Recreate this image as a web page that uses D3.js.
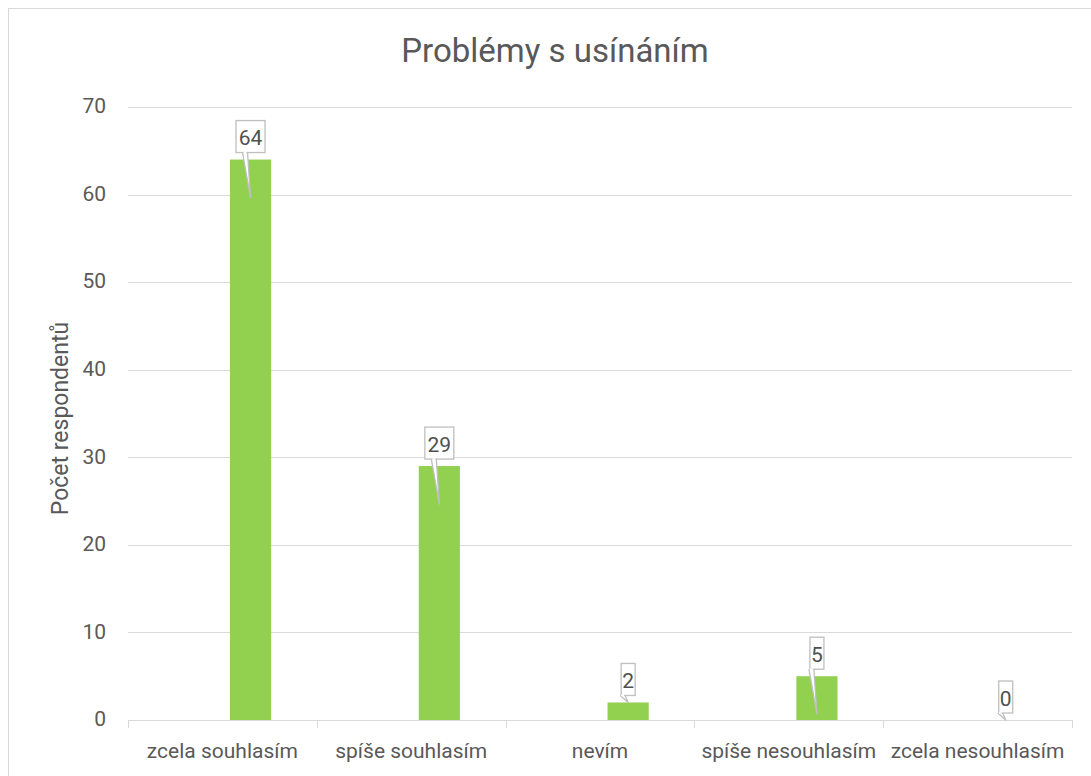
<!DOCTYPE html>
<html>
<head>
<meta charset="utf-8">
<script src="https://cdn.jsdelivr.net/npm/d3@7"></script>
<style>
  html, body { margin: 0; padding: 0; background: #fff; }
  svg { display: block; font-family: Roboto, "Noto Sans", sans-serif; }
</style>
</head>
<body>
<svg id="chart" width="1091" height="776"></svg>
<script>
// Survey answers for "Problémy s usínáním"
const categories = ["zcela souhlasím", "spíše souhlasím", "nevím", "spíše nesouhlasím", "zcela nesouhlasím"];
const counts = [64, 29, 2, 5, 0];
const yTicks = [0, 10, 20, 30, 40, 50, 60, 70];
const chartTitle = "Problémy s usínáním";
const yTitle = "Počet respondentů";

const plot = { left: 128, right: 1072, top: 107, bottom: 720 };

const svg = d3.select("#chart");

// outer chart frame
svg.append("rect")
  .attr("x", 8.5).attr("y", 8.5)
  .attr("width", 1100).attr("height", 800)
  .attr("fill", "#fff").attr("stroke", "#d9d9d9").attr("stroke-width", 1);

const x = d3.scaleBand().domain(categories).range([plot.left, plot.right]).padding(0);
const y = d3.scaleLinear().domain([0, 70]).range([plot.bottom, plot.top]);

// horizontal gridlines
svg.append("g").selectAll("line").data(yTicks.filter(d => d > 0)).join("line")
  .attr("x1", plot.left).attr("x2", plot.right)
  .attr("y1", d => Math.round(y(d)) + 0.5).attr("y2", d => Math.round(y(d)) + 0.5)
  .attr("stroke", "#d9d9d9").attr("stroke-width", 1);

// y tick labels
svg.append("g").selectAll("text").data(yTicks).join("text")
  .attr("x", 106).attr("y", d => y(d) - 1)
  .attr("dy", "0.35em").attr("text-anchor", "end")
  .attr("font-size", 21).attr("fill", "#595959")
  .text(d => d);

// bars
const barOffset = 0.54, barWidth = 0.218;
svg.append("g").selectAll("rect").data(counts).join("rect")
  .attr("x", (d, i) => x(categories[i]) + x.bandwidth() * barOffset)
  .attr("width", x.bandwidth() * barWidth)
  .attr("y", d => y(d))
  .attr("height", d => y(0) - y(d))
  .attr("fill", "#92d050");

// category axis: baseline plus short separators between categories
const gx = svg.append("g").attr("transform", `translate(0,${plot.bottom})`);
gx.append("line")
  .attr("x1", plot.left).attr("x2", plot.right)
  .attr("y1", 0.5).attr("y2", 0.5)
  .attr("stroke", "#d9d9d9");
gx.selectAll("line.sep").data(d3.range(categories.length + 1)).join("line")
  .attr("class", "sep")
  .attr("x1", i => Math.round(plot.left + i * x.bandwidth()) + 0.5)
  .attr("x2", i => Math.round(plot.left + i * x.bandwidth()) + 0.5)
  .attr("y1", 0).attr("y2", 8)
  .attr("stroke", "#d9d9d9");
gx.selectAll("text").data(categories).join("text")
  .attr("x", d => x(d) + x.bandwidth() / 2)
  .attr("y", 38)
  .attr("text-anchor", "middle")
  .attr("font-size", 21).attr("fill", "#595959")
  .text(d => d);

// data callouts
const callouts = svg.append("g");
counts.forEach((v, i) => {
  const cx = x(categories[i]) + x.bandwidth() * (barOffset + barWidth / 2);
  const top = y(v);
  const h = y(0) - top;
  const boxBottom = top - 7;
  const boxH = 32;
  const label = String(v);
  const boxW = label.length > 1 ? 29 : 14;
  const tipY = h > 30 ? top + 38 : top;
  const g = callouts.append("g");
  // pointer wedge
  g.append("path")
    .attr("d", `M${cx - 8},${boxBottom} L${cx},${tipY} L${cx - 3},${boxBottom}`)
    .attr("fill", "#fff").attr("stroke", "#bfbfbf").attr("stroke-width", 1.3)
    .attr("stroke-linejoin", "round");
  g.append("rect")
    .attr("x", cx - boxW / 2).attr("y", boxBottom - boxH)
    .attr("width", boxW).attr("height", boxH)
    .attr("fill", "#fff").attr("stroke", "#bfbfbf").attr("stroke-width", 1.3);
  // hide the seam where the wedge meets the box
  g.append("line")
    .attr("x1", cx - 7).attr("x2", cx - 4)
    .attr("y1", boxBottom).attr("y2", boxBottom)
    .attr("stroke", "#fff").attr("stroke-width", 1.6);
  g.append("text")
    .attr("x", cx).attr("y", boxBottom - boxH / 2 + 1)
    .attr("dy", "0.36em").attr("text-anchor", "middle")
    .attr("font-size", 21).attr("fill", "#505050")
    .text(label);
});

// title
svg.append("text")
  .attr("x", 555).attr("y", 62)
  .attr("text-anchor", "middle")
  .attr("font-size", 33).attr("fill", "#595959")
  .text(chartTitle);

// y axis title
svg.append("text")
  .attr("transform", `translate(68,${(plot.top + plot.bottom) / 2 + 5}) rotate(-90)`)
  .attr("text-anchor", "middle")
  .attr("font-size", 23).attr("fill", "#595959")
  .text(yTitle);
</script>
</body>
</html>
